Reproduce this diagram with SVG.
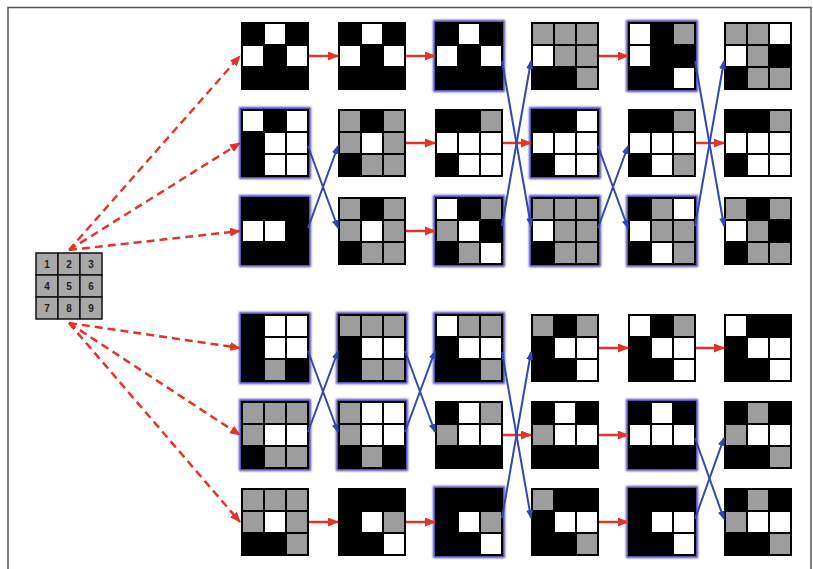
<svg xmlns="http://www.w3.org/2000/svg" xmlns:xlink="http://www.w3.org/1999/xlink" width="813" height="569" viewBox="0 0 813 569">
<style>
.bg{fill:#000}
.w{fill:#fff;stroke:#000;stroke-width:2}
.g{fill:#9c9c9c;stroke:#000;stroke-width:2}
.fr{fill:none;stroke:#000;stroke-width:2}
.hl{fill:none;stroke:#4b44b4;stroke-width:4;filter:url(#glow)}
.lg{fill:#a8a8a8;stroke:#111;stroke-width:1.5}
.num{font-family:"Liberation Sans",Arial,sans-serif;font-size:10px;font-weight:bold;fill:#222;text-anchor:middle}
.ra{stroke:#e3342b;stroke-width:2.5;fill:none;marker-end:url(#ahr)}
.rd{stroke:#e3342b;stroke-width:2.5;fill:none;stroke-dasharray:8 5;marker-end:url(#ahr)}
.ba{stroke:#3347b0;stroke-width:2;fill:none;marker-end:url(#ahb)}
</style>
<defs>
<filter id="glow" x="-20%" y="-20%" width="140%" height="140%"><feGaussianBlur stdDeviation="1.3"/></filter>
<marker id="ahr" markerUnits="userSpaceOnUse" markerWidth="11" markerHeight="9" refX="10" refY="4.5" orient="auto"><path d="M0,0 L11,4.5 L0,9 z" fill="#e3342b"/></marker>
<marker id="ahb" markerUnits="userSpaceOnUse" markerWidth="9" markerHeight="7" refX="8" refY="3.5" orient="auto"><path d="M0,0 L9,3.5 L0,7 z" fill="#3347b0"/></marker>
<rect id="W" class="w" width="22" height="22"/>
<rect id="G" class="g" width="22" height="22"/>
</defs>
<rect x="0" y="0" width="813" height="569" fill="#fff"/>
<rect x="8" y="7.5" width="803" height="590" fill="none" stroke="#555" stroke-width="1.5"/>

<g id="source" transform="translate(36,253)">
<rect class="lg" x="0" y="0" width="22" height="22"/><rect class="lg" x="22" y="0" width="22" height="22"/><rect class="lg" x="44" y="0" width="22" height="22"/>
<rect class="lg" x="0" y="22" width="22" height="22"/><rect class="lg" x="22" y="22" width="22" height="22"/><rect class="lg" x="44" y="22" width="22" height="22"/>
<rect class="lg" x="0" y="44" width="22" height="22"/><rect class="lg" x="22" y="44" width="22" height="22"/><rect class="lg" x="44" y="44" width="22" height="22"/>
<text class="num" x="11" y="15">1</text><text class="num" x="33" y="15">2</text><text class="num" x="55" y="15">3</text>
<text class="num" x="11" y="37">4</text><text class="num" x="33" y="37">5</text><text class="num" x="55" y="37">6</text>
<text class="num" x="11" y="59">7</text><text class="num" x="33" y="59">8</text><text class="num" x="55" y="59">9</text>
</g>

<!-- Row 1 -->
<g id="r1c1" transform="translate(242,23)"><rect class="bg" width="66" height="66"/><use href="#W" x="22" y="0"/><use href="#W" x="0" y="22"/><use href="#W" x="44" y="22"/><rect class="fr" width="66" height="66"/></g>
<g id="r1c2" transform="translate(339,23)"><rect class="bg" width="66" height="66"/><use href="#W" x="22" y="0"/><use href="#W" x="0" y="22"/><use href="#W" x="44" y="22"/><rect class="fr" width="66" height="66"/></g>
<g id="r1c3" transform="translate(436,23)"><rect class="hl" x="-1" y="-1" width="68" height="68"/><rect class="bg" width="66" height="66"/><use href="#W" x="22" y="0"/><use href="#W" x="0" y="22"/><use href="#W" x="44" y="22"/><rect class="fr" width="66" height="66"/></g>
<g id="r1c4" transform="translate(532,23)"><rect class="bg" width="66" height="66"/><use href="#G" x="0" y="0"/><use href="#G" x="22" y="0"/><use href="#G" x="44" y="0"/><use href="#W" x="0" y="22"/><use href="#G" x="22" y="22"/><use href="#G" x="44" y="22"/><use href="#G" x="44" y="44"/><rect class="fr" width="66" height="66"/></g>
<g id="r1c5" transform="translate(629,23)"><rect class="hl" x="-1" y="-1" width="68" height="68"/><rect class="bg" width="66" height="66"/><use href="#W" x="0" y="0"/><use href="#G" x="44" y="0"/><use href="#W" x="0" y="22"/><use href="#W" x="44" y="44"/><rect class="fr" width="66" height="66"/></g>
<g id="r1c6" transform="translate(725,23)"><rect class="bg" width="66" height="66"/><use href="#G" x="0" y="0"/><use href="#G" x="22" y="0"/><use href="#W" x="44" y="0"/><use href="#W" x="0" y="22"/><use href="#G" x="22" y="22"/><use href="#G" x="22" y="44"/><use href="#G" x="44" y="44"/><rect class="fr" width="66" height="66"/></g>

<!-- Row 2 -->
<g id="r2c1" transform="translate(242,110)"><rect class="hl" x="-1" y="-1" width="68" height="68"/><rect class="bg" width="66" height="66"/><use href="#W" x="0" y="0"/><use href="#W" x="44" y="0"/><use href="#W" x="22" y="22"/><use href="#W" x="44" y="22"/><use href="#W" x="22" y="44"/><use href="#W" x="44" y="44"/><rect class="fr" width="66" height="66"/></g>
<g id="r2c2" transform="translate(339,110)"><rect class="bg" width="66" height="66"/><use href="#G" x="0" y="0"/><use href="#G" x="44" y="0"/><use href="#G" x="0" y="22"/><use href="#W" x="22" y="22"/><use href="#G" x="44" y="22"/><use href="#G" x="22" y="44"/><use href="#G" x="44" y="44"/><rect class="fr" width="66" height="66"/></g>
<g id="r2c3" transform="translate(436,110)"><rect class="bg" width="66" height="66"/><use href="#G" x="44" y="0"/><use href="#W" x="0" y="22"/><use href="#W" x="22" y="22"/><use href="#W" x="44" y="22"/><use href="#W" x="22" y="44"/><use href="#W" x="44" y="44"/><rect class="fr" width="66" height="66"/></g>
<g id="r2c4" transform="translate(532,110)"><rect class="hl" x="-1" y="-1" width="68" height="68"/><rect class="bg" width="66" height="66"/><use href="#W" x="44" y="0"/><use href="#W" x="0" y="22"/><use href="#W" x="22" y="22"/><use href="#W" x="44" y="22"/><use href="#W" x="22" y="44"/><use href="#W" x="44" y="44"/><rect class="fr" width="66" height="66"/></g>
<g id="r2c5" transform="translate(629,110)"><rect class="bg" width="66" height="66"/><use href="#G" x="44" y="0"/><use href="#W" x="0" y="22"/><use href="#W" x="22" y="22"/><use href="#W" x="44" y="22"/><use href="#W" x="22" y="44"/><use href="#G" x="44" y="44"/><rect class="fr" width="66" height="66"/></g>
<g id="r2c6" transform="translate(725,110)"><rect class="bg" width="66" height="66"/><use href="#G" x="44" y="0"/><use href="#W" x="0" y="22"/><use href="#W" x="22" y="22"/><use href="#W" x="44" y="22"/><use href="#W" x="22" y="44"/><use href="#W" x="44" y="44"/><rect class="fr" width="66" height="66"/></g>

<!-- Row 3 -->
<g id="r3c1" transform="translate(242,198)"><rect class="hl" x="-1" y="-1" width="68" height="68"/><rect class="bg" width="66" height="66"/><use href="#W" x="0" y="22"/><use href="#W" x="22" y="22"/><rect class="fr" width="66" height="66"/></g>
<g id="r3c2" transform="translate(339,198)"><rect class="bg" width="66" height="66"/><use href="#G" x="0" y="0"/><use href="#G" x="44" y="0"/><use href="#G" x="0" y="22"/><use href="#W" x="22" y="22"/><use href="#G" x="44" y="22"/><use href="#G" x="22" y="44"/><use href="#G" x="44" y="44"/><rect class="fr" width="66" height="66"/></g>
<g id="r3c3" transform="translate(436,198)"><rect class="hl" x="-1" y="-1" width="68" height="68"/><rect class="bg" width="66" height="66"/><use href="#W" x="0" y="0"/><use href="#G" x="44" y="0"/><use href="#G" x="0" y="22"/><use href="#W" x="22" y="22"/><use href="#G" x="22" y="44"/><use href="#W" x="44" y="44"/><rect class="fr" width="66" height="66"/></g>
<g id="r3c4" transform="translate(532,198)"><rect class="hl" x="-1" y="-1" width="68" height="68"/><rect class="bg" width="66" height="66"/><use href="#G" x="0" y="0"/><use href="#G" x="22" y="0"/><use href="#G" x="44" y="0"/><use href="#W" x="0" y="22"/><use href="#G" x="22" y="22"/><use href="#G" x="44" y="22"/><use href="#G" x="22" y="44"/><use href="#G" x="44" y="44"/><rect class="fr" width="66" height="66"/></g>
<g id="r3c5" transform="translate(629,198)"><rect class="hl" x="-1" y="-1" width="68" height="68"/><rect class="bg" width="66" height="66"/><use href="#G" x="22" y="0"/><use href="#W" x="44" y="0"/><use href="#W" x="0" y="22"/><use href="#G" x="22" y="22"/><use href="#G" x="44" y="22"/><use href="#W" x="22" y="44"/><use href="#G" x="44" y="44"/><rect class="fr" width="66" height="66"/></g>
<g id="r3c6" transform="translate(725,198)"><rect class="bg" width="66" height="66"/><use href="#G" x="0" y="0"/><use href="#G" x="44" y="0"/><use href="#W" x="0" y="22"/><use href="#G" x="22" y="22"/><use href="#G" x="22" y="44"/><use href="#G" x="44" y="44"/><rect class="fr" width="66" height="66"/></g>

<!-- Row 4 -->
<g id="r4c1" transform="translate(242,315)"><rect class="hl" x="-1" y="-1" width="68" height="68"/><rect class="bg" width="66" height="66"/><use href="#W" x="22" y="0"/><use href="#W" x="44" y="0"/><use href="#W" x="22" y="22"/><use href="#W" x="44" y="22"/><use href="#G" x="22" y="44"/><rect class="fr" width="66" height="66"/></g>
<g id="r4c2" transform="translate(339,315)"><rect class="hl" x="-1" y="-1" width="68" height="68"/><rect class="bg" width="66" height="66"/><use href="#G" x="0" y="0"/><use href="#G" x="22" y="0"/><use href="#G" x="44" y="0"/><use href="#W" x="22" y="22"/><use href="#W" x="44" y="22"/><use href="#G" x="22" y="44"/><use href="#G" x="44" y="44"/><rect class="fr" width="66" height="66"/></g>
<g id="r4c3" transform="translate(436,315)"><rect class="hl" x="-1" y="-1" width="68" height="68"/><rect class="bg" width="66" height="66"/><use href="#W" x="0" y="0"/><use href="#G" x="22" y="0"/><use href="#G" x="44" y="0"/><use href="#W" x="22" y="22"/><use href="#W" x="44" y="22"/><use href="#G" x="44" y="44"/><rect class="fr" width="66" height="66"/></g>
<g id="r4c4" transform="translate(532,315)"><rect class="bg" width="66" height="66"/><use href="#G" x="0" y="0"/><use href="#G" x="44" y="0"/><use href="#W" x="22" y="22"/><use href="#W" x="44" y="22"/><use href="#W" x="44" y="44"/><rect class="fr" width="66" height="66"/></g>
<g id="r4c5" transform="translate(629,315)"><rect class="bg" width="66" height="66"/><use href="#W" x="0" y="0"/><use href="#G" x="44" y="0"/><use href="#W" x="22" y="22"/><use href="#W" x="44" y="22"/><use href="#W" x="44" y="44"/><rect class="fr" width="66" height="66"/></g>
<g id="r4c6" transform="translate(725,315)"><rect class="bg" width="66" height="66"/><use href="#W" x="0" y="0"/><use href="#W" x="22" y="22"/><use href="#W" x="44" y="22"/><use href="#W" x="44" y="44"/><rect class="fr" width="66" height="66"/></g>

<!-- Row 5 -->
<g id="r5c1" transform="translate(242,402)"><rect class="hl" x="-1" y="-1" width="68" height="68"/><rect class="bg" width="66" height="66"/><use href="#G" x="0" y="0"/><use href="#G" x="22" y="0"/><use href="#G" x="44" y="0"/><use href="#G" x="0" y="22"/><use href="#W" x="22" y="22"/><use href="#W" x="44" y="22"/><use href="#G" x="22" y="44"/><use href="#G" x="44" y="44"/><rect class="fr" width="66" height="66"/></g>
<g id="r5c2" transform="translate(339,402)"><rect class="hl" x="-1" y="-1" width="68" height="68"/><rect class="bg" width="66" height="66"/><use href="#G" x="0" y="0"/><use href="#W" x="22" y="0"/><use href="#W" x="44" y="0"/><use href="#G" x="0" y="22"/><use href="#W" x="22" y="22"/><use href="#W" x="44" y="22"/><use href="#G" x="22" y="44"/><rect class="fr" width="66" height="66"/></g>
<g id="r5c3" transform="translate(436,402)"><rect class="bg" width="66" height="66"/><use href="#W" x="22" y="0"/><use href="#G" x="44" y="0"/><use href="#G" x="0" y="22"/><use href="#W" x="22" y="22"/><use href="#W" x="44" y="22"/><rect class="fr" width="66" height="66"/></g>
<g id="r5c4" transform="translate(532,402)"><rect class="bg" width="66" height="66"/><use href="#W" x="22" y="0"/><use href="#G" x="0" y="22"/><use href="#W" x="22" y="22"/><use href="#W" x="44" y="22"/><rect class="fr" width="66" height="66"/></g>
<g id="r5c5" transform="translate(629,402)"><rect class="hl" x="-1" y="-1" width="68" height="68"/><rect class="bg" width="66" height="66"/><use href="#W" x="22" y="0"/><use href="#W" x="0" y="22"/><use href="#W" x="22" y="22"/><use href="#W" x="44" y="22"/><rect class="fr" width="66" height="66"/></g>
<g id="r5c6" transform="translate(725,402)"><rect class="bg" width="66" height="66"/><use href="#G" x="22" y="0"/><use href="#G" x="0" y="22"/><use href="#W" x="22" y="22"/><use href="#W" x="44" y="22"/><use href="#G" x="44" y="44"/><rect class="fr" width="66" height="66"/></g>

<!-- Row 6 -->
<g id="r6c1" transform="translate(242,489)"><rect class="bg" width="66" height="66"/><use href="#G" x="0" y="0"/><use href="#G" x="22" y="0"/><use href="#G" x="44" y="0"/><use href="#G" x="0" y="22"/><use href="#W" x="22" y="22"/><use href="#G" x="44" y="22"/><use href="#G" x="44" y="44"/><rect class="fr" width="66" height="66"/></g>
<g id="r6c2" transform="translate(339,489)"><rect class="bg" width="66" height="66"/><use href="#W" x="22" y="22"/><use href="#G" x="44" y="22"/><use href="#W" x="44" y="44"/><rect class="fr" width="66" height="66"/></g>
<g id="r6c3" transform="translate(436,489)"><rect class="hl" x="-1" y="-1" width="68" height="68"/><rect class="bg" width="66" height="66"/><use href="#W" x="22" y="22"/><use href="#G" x="44" y="22"/><use href="#W" x="44" y="44"/><rect class="fr" width="66" height="66"/></g>
<g id="r6c4" transform="translate(532,489)"><rect class="bg" width="66" height="66"/><use href="#G" x="0" y="0"/><use href="#W" x="22" y="22"/><use href="#W" x="44" y="22"/><use href="#G" x="44" y="44"/><rect class="fr" width="66" height="66"/></g>
<g id="r6c5" transform="translate(629,489)"><rect class="hl" x="-1" y="-1" width="68" height="68"/><rect class="bg" width="66" height="66"/><use href="#W" x="22" y="22"/><use href="#W" x="44" y="22"/><use href="#W" x="44" y="44"/><rect class="fr" width="66" height="66"/></g>
<g id="r6c6" transform="translate(725,489)"><rect class="bg" width="66" height="66"/><use href="#G" x="22" y="0"/><use href="#G" x="0" y="22"/><use href="#W" x="22" y="22"/><use href="#W" x="44" y="22"/><use href="#G" x="44" y="44"/><rect class="fr" width="66" height="66"/></g>

<g id="connectors">
<line class="rd" x1="69" y1="250" x2="240" y2="56"/>
<line class="rd" x1="69" y1="250" x2="240" y2="143"/>
<line class="rd" x1="69" y1="250" x2="240" y2="231"/>
<line class="rd" x1="69" y1="323" x2="240" y2="348"/>
<line class="rd" x1="69" y1="323" x2="240" y2="435"/>
<line class="rd" x1="69" y1="323" x2="240" y2="522"/>

<line class="ra" x1="309" y1="56" x2="338" y2="56"/>
<line class="ra" x1="406" y1="56" x2="435" y2="56"/>
<line class="ra" x1="599" y1="56" x2="628" y2="56"/>
<line class="ra" x1="406" y1="143" x2="435" y2="143"/>
<line class="ra" x1="503" y1="143" x2="531" y2="143"/>
<line class="ra" x1="696" y1="143" x2="724" y2="143"/>
<line class="ra" x1="406" y1="231" x2="435" y2="231"/>
<line class="ra" x1="599" y1="348" x2="628" y2="348"/>
<line class="ra" x1="696" y1="348" x2="724" y2="348"/>
<line class="ra" x1="503" y1="435" x2="531" y2="435"/>
<line class="ra" x1="599" y1="435" x2="628" y2="435"/>
<line class="ra" x1="309" y1="522" x2="338" y2="522"/>
<line class="ra" x1="406" y1="522" x2="435" y2="522"/>
<line class="ra" x1="599" y1="522" x2="628" y2="522"/>

<line class="ba" x1="308" y1="146" x2="338" y2="228"/>
<line class="ba" x1="308" y1="228" x2="338" y2="146"/>
<line class="ba" x1="502" y1="61" x2="531" y2="226"/>
<line class="ba" x1="502" y1="226" x2="531" y2="61"/>
<line class="ba" x1="598" y1="146" x2="628" y2="228"/>
<line class="ba" x1="598" y1="228" x2="628" y2="146"/>
<line class="ba" x1="695" y1="61" x2="724" y2="226"/>
<line class="ba" x1="695" y1="226" x2="724" y2="61"/>
<line class="ba" x1="308" y1="351" x2="338" y2="432"/>
<line class="ba" x1="308" y1="432" x2="338" y2="351"/>
<line class="ba" x1="405" y1="351" x2="435" y2="432"/>
<line class="ba" x1="405" y1="432" x2="435" y2="351"/>
<line class="ba" x1="502" y1="352" x2="531" y2="518"/>
<line class="ba" x1="502" y1="518" x2="531" y2="352"/>
<line class="ba" x1="695" y1="438" x2="724" y2="519"/>
<line class="ba" x1="695" y1="519" x2="724" y2="438"/>
</g>
</svg>
